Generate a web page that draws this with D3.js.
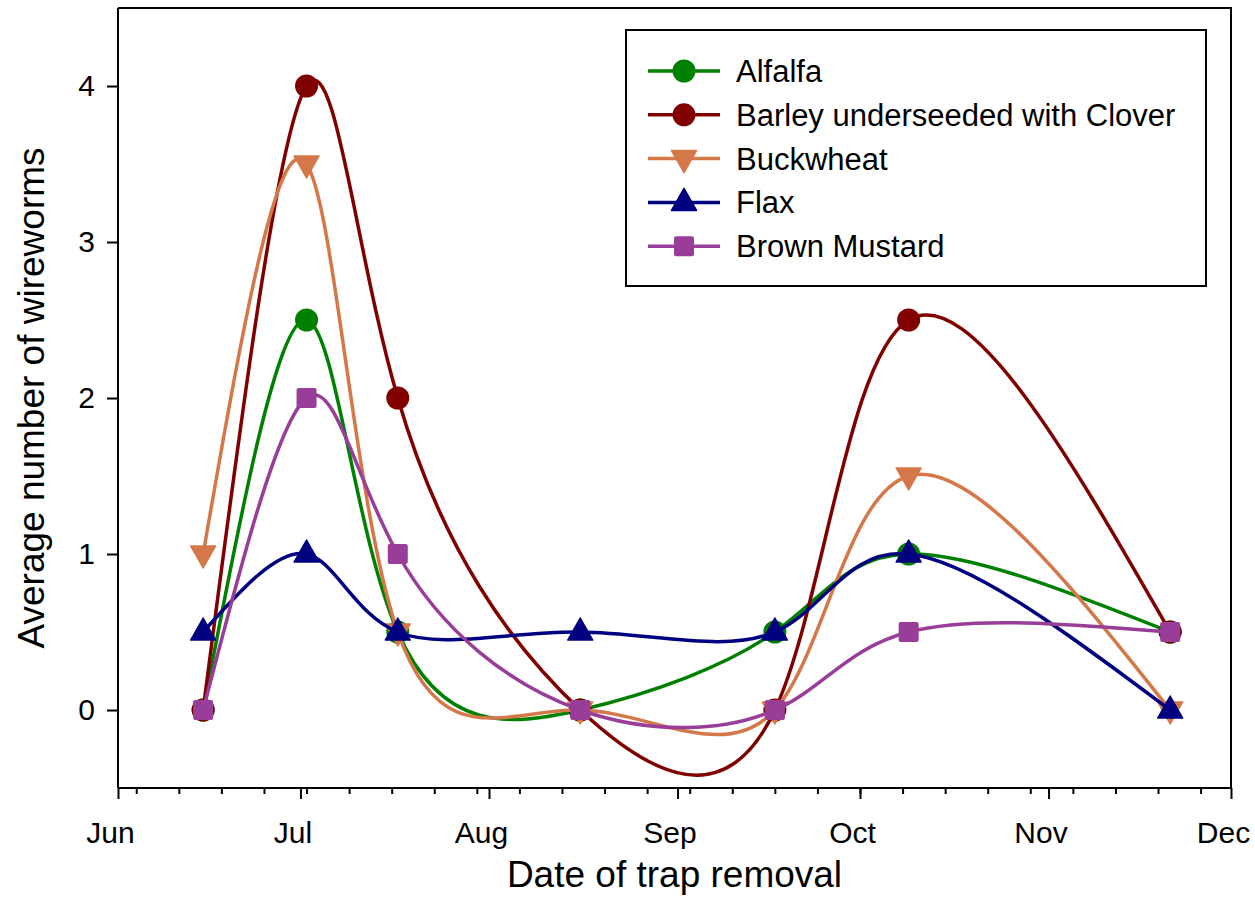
<!DOCTYPE html>
<html><head><meta charset="utf-8">
<script src="https://cdn.jsdelivr.net/npm/d3@7"></script>
<style>body{margin:0;background:#fff}svg{display:block}text{font-family:"Liberation Sans",Arial,sans-serif;fill:#000}</style>
</head><body>
<svg id="c" width="1255" height="918"></svg>
<script>
// ---- data ----
const dates = ["2017-06-15","2017-07-02","2017-07-17","2017-08-16","2017-09-17","2017-10-09","2017-11-21"];
const alfalfa = [0, 2.5, 0.5, 0, 0.5, 1, 0.5];
const barley = [0, 4, 2, 0, 0, 2.5, 0.5];
const buckwheat = [1, 3.5, 0.5, 0, 0, 1.5, 0];
const flax = [0.5, 1, 0.5, 0.5, 0.5, 1, 0];
const mustard = [0, 2, 1, 0, 0, 0.5, 0.5];
const seriesNames = ["Alfalfa","Barley underseeded with Clover","Buckwheat","Flax","Brown Mustard"];
const yTicks = [0,1,2,3,4];
const xTickLabels = ["Jun","Jul","Aug","Sep","Oct","Nov","Dec"];

const colors = ["#008000","#800000","#D4784A","#000080","#983E98"];
const shapes = ["circle","circle","tri-down","tri-up","square"];
const seriesVals = [alfalfa, barley, buckwheat, flax, mustard];

const parse = d3.timeParse("%Y-%m-%d");
const L = 118, R = 1231, T = 8, B = 788;
const x = d3.scaleTime().domain([parse("2017-06-01"), parse("2017-12-01")]).range([L, R]);
const y = d3.scaleLinear().domain([-0.5, 4.5]).range([B, T]);

const svg = d3.select("#c");

// frame
svg.append("path").attr("d",`M${L},${T}H${R}V${B}`).attr("fill","none").attr("stroke","#000").attr("stroke-width",2);

// x axis
const xMajor = d3.timeMonth.range(parse("2017-06-01"), d3.timeDay.offset(parse("2017-12-01"),1));
const xMinor = d3.timeWeek.range(parse("2017-06-01"), parse("2017-12-01"));
const gx = svg.append("g").attr("transform",`translate(0,${B})`);
gx.call(d3.axisBottom(x).tickValues(xMinor).tickSize(6).tickFormat(""));
gx.call(g=>g.selectAll(".domain").remove());
const gx2 = svg.append("g").attr("transform",`translate(0,${B})`);
gx2.call(d3.axisBottom(x).tickValues(xMajor).tickSize(11).tickFormat((d,i)=>xTickLabels[i]));
[gx,gx2].forEach(g=>{g.selectAll("line").attr("stroke","#000").attr("stroke-width",2);});
gx2.select(".domain").attr("stroke","#000").attr("stroke-width",2).attr("d",`M${L},0H${R}`);
gx2.selectAll("text").attr("font-size",30).attr("font-family","Liberation Sans, Arial, sans-serif").attr("dy",0).attr("y",55).attr("x",-8);

// y axis
const gy = svg.append("g").attr("transform",`translate(${L},0)`);
gy.call(d3.axisLeft(y).tickValues(yTicks).tickSize(11).tickPadding(12).tickFormat(d3.format("d")));
gy.select(".domain").attr("stroke","#000").attr("stroke-width",2).attr("d",`M0,${T}V${B}`);
gy.selectAll("line").attr("stroke","#000").attr("stroke-width",2);
gy.selectAll("text").attr("font-size",30).attr("font-family","Liberation Sans, Arial, sans-serif");

// titles
svg.append("text").attr("x",(L+R)/2).attr("y",887).attr("text-anchor","middle").attr("font-size",37).text("Date of trap removal");
svg.append("text").attr("transform",`translate(44,${(T+B)/2}) rotate(-90)`).attr("text-anchor","middle").attr("font-size",37).text("Average number of wireworms");

function marker(g, shape, color, cx, cy){
  if(shape==="circle") g.append("circle").attr("cx",cx).attr("cy",cy).attr("r",11.5).attr("fill",color);
  else if(shape==="square") g.append("rect").attr("x",cx-10).attr("y",cy-10).attr("width",20).attr("height",20).attr("rx",2).attr("fill",color);
  else if(shape==="tri-up") g.append("path").attr("d",`M${cx},${cy-14}L${cx+12.5},${cy+8}L${cx-12.5},${cy+8}Z`).attr("fill",color).attr("stroke",color).attr("stroke-width",1.5).attr("stroke-linejoin","round");
  else g.append("path").attr("d",`M${cx},${cy+14}L${cx+12.5},${cy-8}L${cx-12.5},${cy-8}Z`).attr("fill",color).attr("stroke",color).attr("stroke-width",1.5).attr("stroke-linejoin","round");
}

const line = d3.line().x(d=>x(d.date)).y(d=>y(d.v)).curve(d3.curveNatural);
seriesVals.forEach((vals,si)=>{
  const pts = vals.map((v,i)=>({date:parse(dates[i]), v}));
  const g = svg.append("g");
  g.append("path").attr("d",line(pts)).attr("fill","none").attr("stroke",colors[si]).attr("stroke-width",3.5);
  pts.forEach(p=>marker(g, shapes[si], colors[si], x(p.date), y(p.v)));
});

// legend
const lg = svg.append("g");
lg.append("rect").attr("x",626).attr("y",30).attr("width",580).attr("height",256).attr("fill","#fff").attr("stroke","#000").attr("stroke-width",2);
seriesNames.forEach((name,i)=>{
  const cy = 71 + i*43.8;
  lg.append("line").attr("x1",648).attr("x2",720).attr("y1",cy).attr("y2",cy).attr("stroke",colors[i]).attr("stroke-width",3.5);
  marker(lg, shapes[i], colors[i], 684, cy);
  lg.append("text").attr("x",736).attr("y",cy+11).attr("font-size",31).text(name);
});
</script>
</body></html>
